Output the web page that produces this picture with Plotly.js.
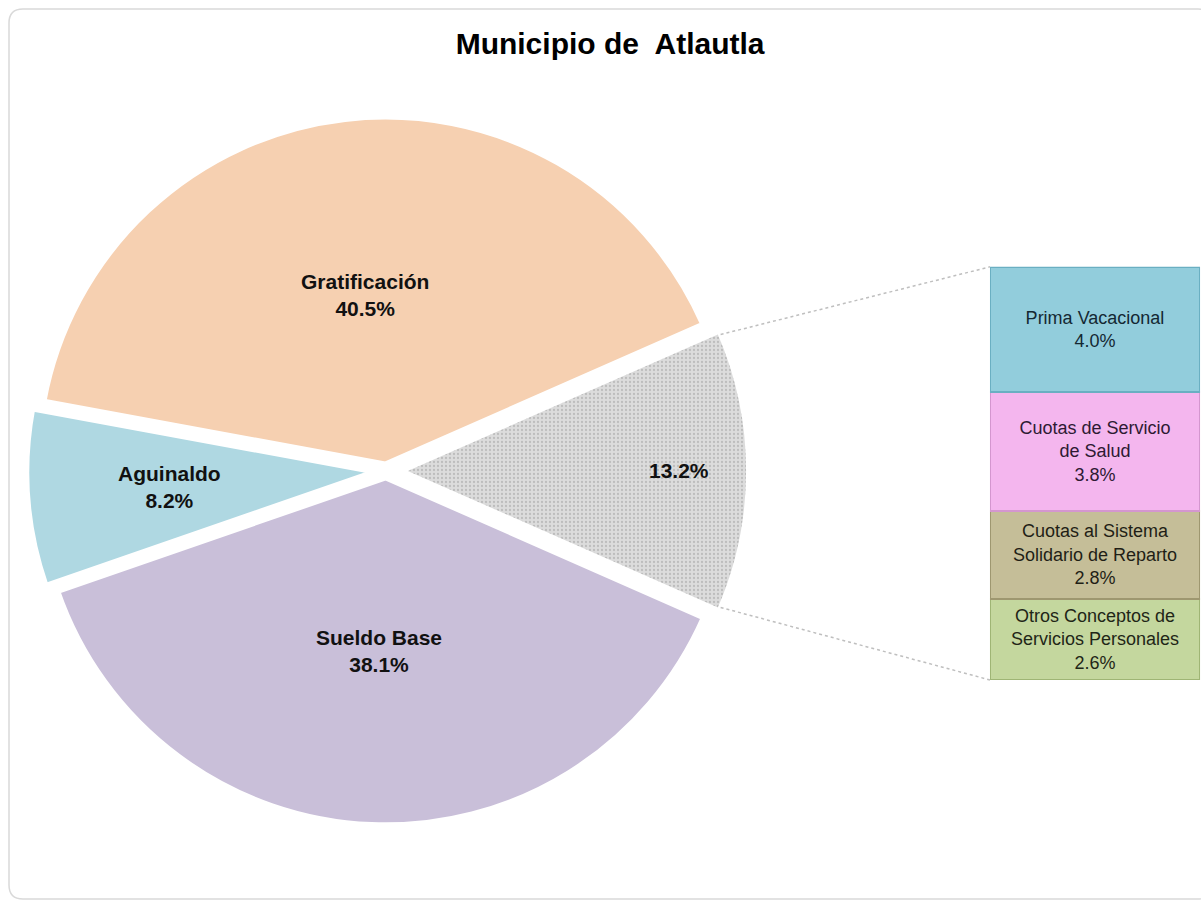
<!DOCTYPE html>
<html>
<head>
<meta charset="utf-8">
<script src="https://cdn.plot.ly/plotly-3.0.1.min.js"></script>
<style>html,body{margin:0;padding:0;background:#fff;}#chart{width:1201px;height:903px;}</style>
</head>
<body>
<div id="chart"></div>
<script>
// ---- data ----
const title = "Municipio de\u00a0 Atlautla";
const pieLabels = ["Gratificación", "Aguinaldo", "Sueldo Base", "Otros"];
const pieValues = [40.5, 8.2, 38.1, 13.2];
const pieShowName = [true, true, true, false];
const barLabels = ["Otros Conceptos de<br>Servicios Personales", "Cuotas al Sistema<br>Solidario de Reparto", "Cuotas de Servicio<br>de Salud", "Prima Vacacional"];
const barValues = [2.6, 2.8, 3.8, 4.0];

// ---- styles ----
const W = 1201, H = 903;
const pieColors = ["#F6D0B1", "#AFD8E2", "#C9BFD9", "#DCDCDC"];
const piePull = [0.02, 0.035, 0.02, 0.045];
const labelRadius = [0.49, 0.59, 0.50, 0.80];
const barColors = ["#C4D79E", "#C5BE98", "#F4B6EE", "#92CDDC"];
const barLines = ["#9FB575", "#9E9770", "#D496CF", "#6AAFC2"];
const barTextColors = ["#1f2617", "#1f1e16", "#2e1a33", "#142833"];
const pieDomX = [0.0195, 0.6233];
const pieDomY = [0.0769, 0.8800];
const barDomX = [0.8243, 0.9992];
const barDomY = [0.2470, 0.7045];
const FONT = "Liberation Sans, Arial, sans-serif";

const total = pieValues.reduce((a, b) => a + b, 0);
const otherIdx = pieValues.length - 1;
const shares = pieValues.map(v => v / total * 360);
const otherShare = shares[otherIdx];
// first slice (counterclockwise) ends at otherShare/2 + its own share (math angle)
const firstEnd = otherShare / 2 + shares[0];
const rotation = 90 - firstEnd;

const traces = [{
  type: "pie",
  values: pieValues,
  labels: pieLabels,
  textinfo: "none",
  sort: false,
  direction: "counterclockwise",
  rotation: rotation,
  pull: piePull,
  domain: {x: pieDomX, y: pieDomY},
  marker: {
    colors: pieColors,
    line: {color: "#ffffff", width: 5},
    pattern: {shape: ["", "", "", "."], fgcolor: "#bdbdbd", bgcolor: "#DCDCDC", size: 4, solidity: 0.25}
  },
  showlegend: false,
  hoverinfo: "label+percent"
}];

barValues.forEach((v, i) => {
  traces.push({
    type: "bar",
    x: [0],
    y: [v],
    xaxis: "x",
    yaxis: "y",
    width: 1,
    text: [barLabels[i] + "<br>" + v.toFixed(1) + "%"],
    textposition: "inside",
    insidetextanchor: "middle",
    textangle: 0,
    textfont: {family: FONT, size: 18, color: barTextColors[i]},
    marker: {color: barColors[i], line: {color: barLines[i], width: 2}},
    showlegend: false,
    hoverinfo: "text"
  });
});

// pie geometry (matches plotly's pie layout)
const cx = (pieDomX[0] + pieDomX[1]) / 2 * W;
const cy = H - (pieDomY[0] + pieDomY[1]) / 2 * H;
const D = Math.min((pieDomX[1] - pieDomX[0]) * W, (pieDomY[1] - pieDomY[0]) * H);
const maxPull = Math.max(...piePull);
const r = D / 2 / (1 + maxPull);
const rad = d => d * Math.PI / 180;
const startMath = firstEnd - shares[0];
const sliceStart = [];
let acc = startMath;
shares.forEach(s => { sliceStart.push(acc); acc += s; });

// slice labels placed along each slice's mid angle
const annotations = pieValues.map((v, i) => {
  const mid = sliceStart[i] + shares[i] / 2;
  const rr = r * (piePull[i] + labelRadius[i]);
  const px = cx + rr * Math.cos(rad(mid));
  const py = cy - rr * Math.sin(rad(mid));
  return {
    xref: "paper", yref: "paper", x: px / W, y: 1 - py / H,
    xanchor: "center", yanchor: "middle", showarrow: false,
    text: "<b>" + (pieShowName[i] ? pieLabels[i] + "<br>" : "") + v.toFixed(1) + "%</b>",
    font: {family: FONT, size: 21, color: "#111111"}
  };
});

// connector lines from the pulled-out slice to the bar
const a0 = sliceStart[otherIdx];
const a1 = a0 + otherShare;
const am = (a0 + a1) / 2;
const ox = cx + piePull[otherIdx] * r * Math.cos(rad(am));
const oy = cy - piePull[otherIdx] * r * Math.sin(rad(am));
function corner(a) {
  return [(ox + r * Math.cos(rad(a))) / W, 1 - (oy - r * Math.sin(rad(a))) / H];
}
const cTop = corner(a1 - 0.6), cBot = corner(a0 + 0.6);

const fx0 = 9 / W, fx1 = 1212 / W, fy0 = 1 - 899 / H, fy1 = 1 - 9 / H;
const rx = 14 / W, ry = 14 / H;
const framePath = `M ${fx0 + rx},${fy1} L ${fx1 - rx},${fy1} Q ${fx1},${fy1} ${fx1},${fy1 - ry} L ${fx1},${fy0 + ry} Q ${fx1},${fy0} ${fx1 - rx},${fy0} L ${fx0 + rx},${fy0} Q ${fx0},${fy0} ${fx0},${fy0 + ry} L ${fx0},${fy1 - ry} Q ${fx0},${fy1} ${fx0 + rx},${fy1} Z`;

const layout = {
  width: W, height: H,
  margin: {l: 0, r: 0, t: 0, b: 0},
  paper_bgcolor: "#ffffff",
  plot_bgcolor: "rgba(0,0,0,0)",
  barmode: "stack",
  bargap: 0,
  title: {text: title, x: 0.508, xanchor: "center", y: 0.952, yanchor: "middle",
          font: {family: FONT, size: 30, color: "#000000", weight: "bold"}},
  xaxis: {domain: barDomX, range: [-0.5, 0.5], visible: false, fixedrange: true},
  yaxis: {domain: barDomY, range: [0, barValues.reduce((a, b) => a + b, 0)], visible: false, fixedrange: true},
  annotations: annotations,
  shapes: [
    {type: "path", xref: "paper", yref: "paper", path: framePath, line: {color: "#d9d9d9", width: 1.5}, layer: "below"},
    {type: "line", xref: "paper", yref: "paper", x0: cTop[0], y0: cTop[1], x1: barDomX[0], y1: barDomY[1], line: {color: "#bfbfbf", width: 1.5, dash: "dot"}},
    {type: "line", xref: "paper", yref: "paper", x0: cBot[0], y0: cBot[1], x1: barDomX[0], y1: barDomY[0], line: {color: "#bfbfbf", width: 1.5, dash: "dot"}}
  ],
  showlegend: false
};

Plotly.newPlot("chart", traces, layout, {displayModeBar: false});
</script>
</body>
</html>
